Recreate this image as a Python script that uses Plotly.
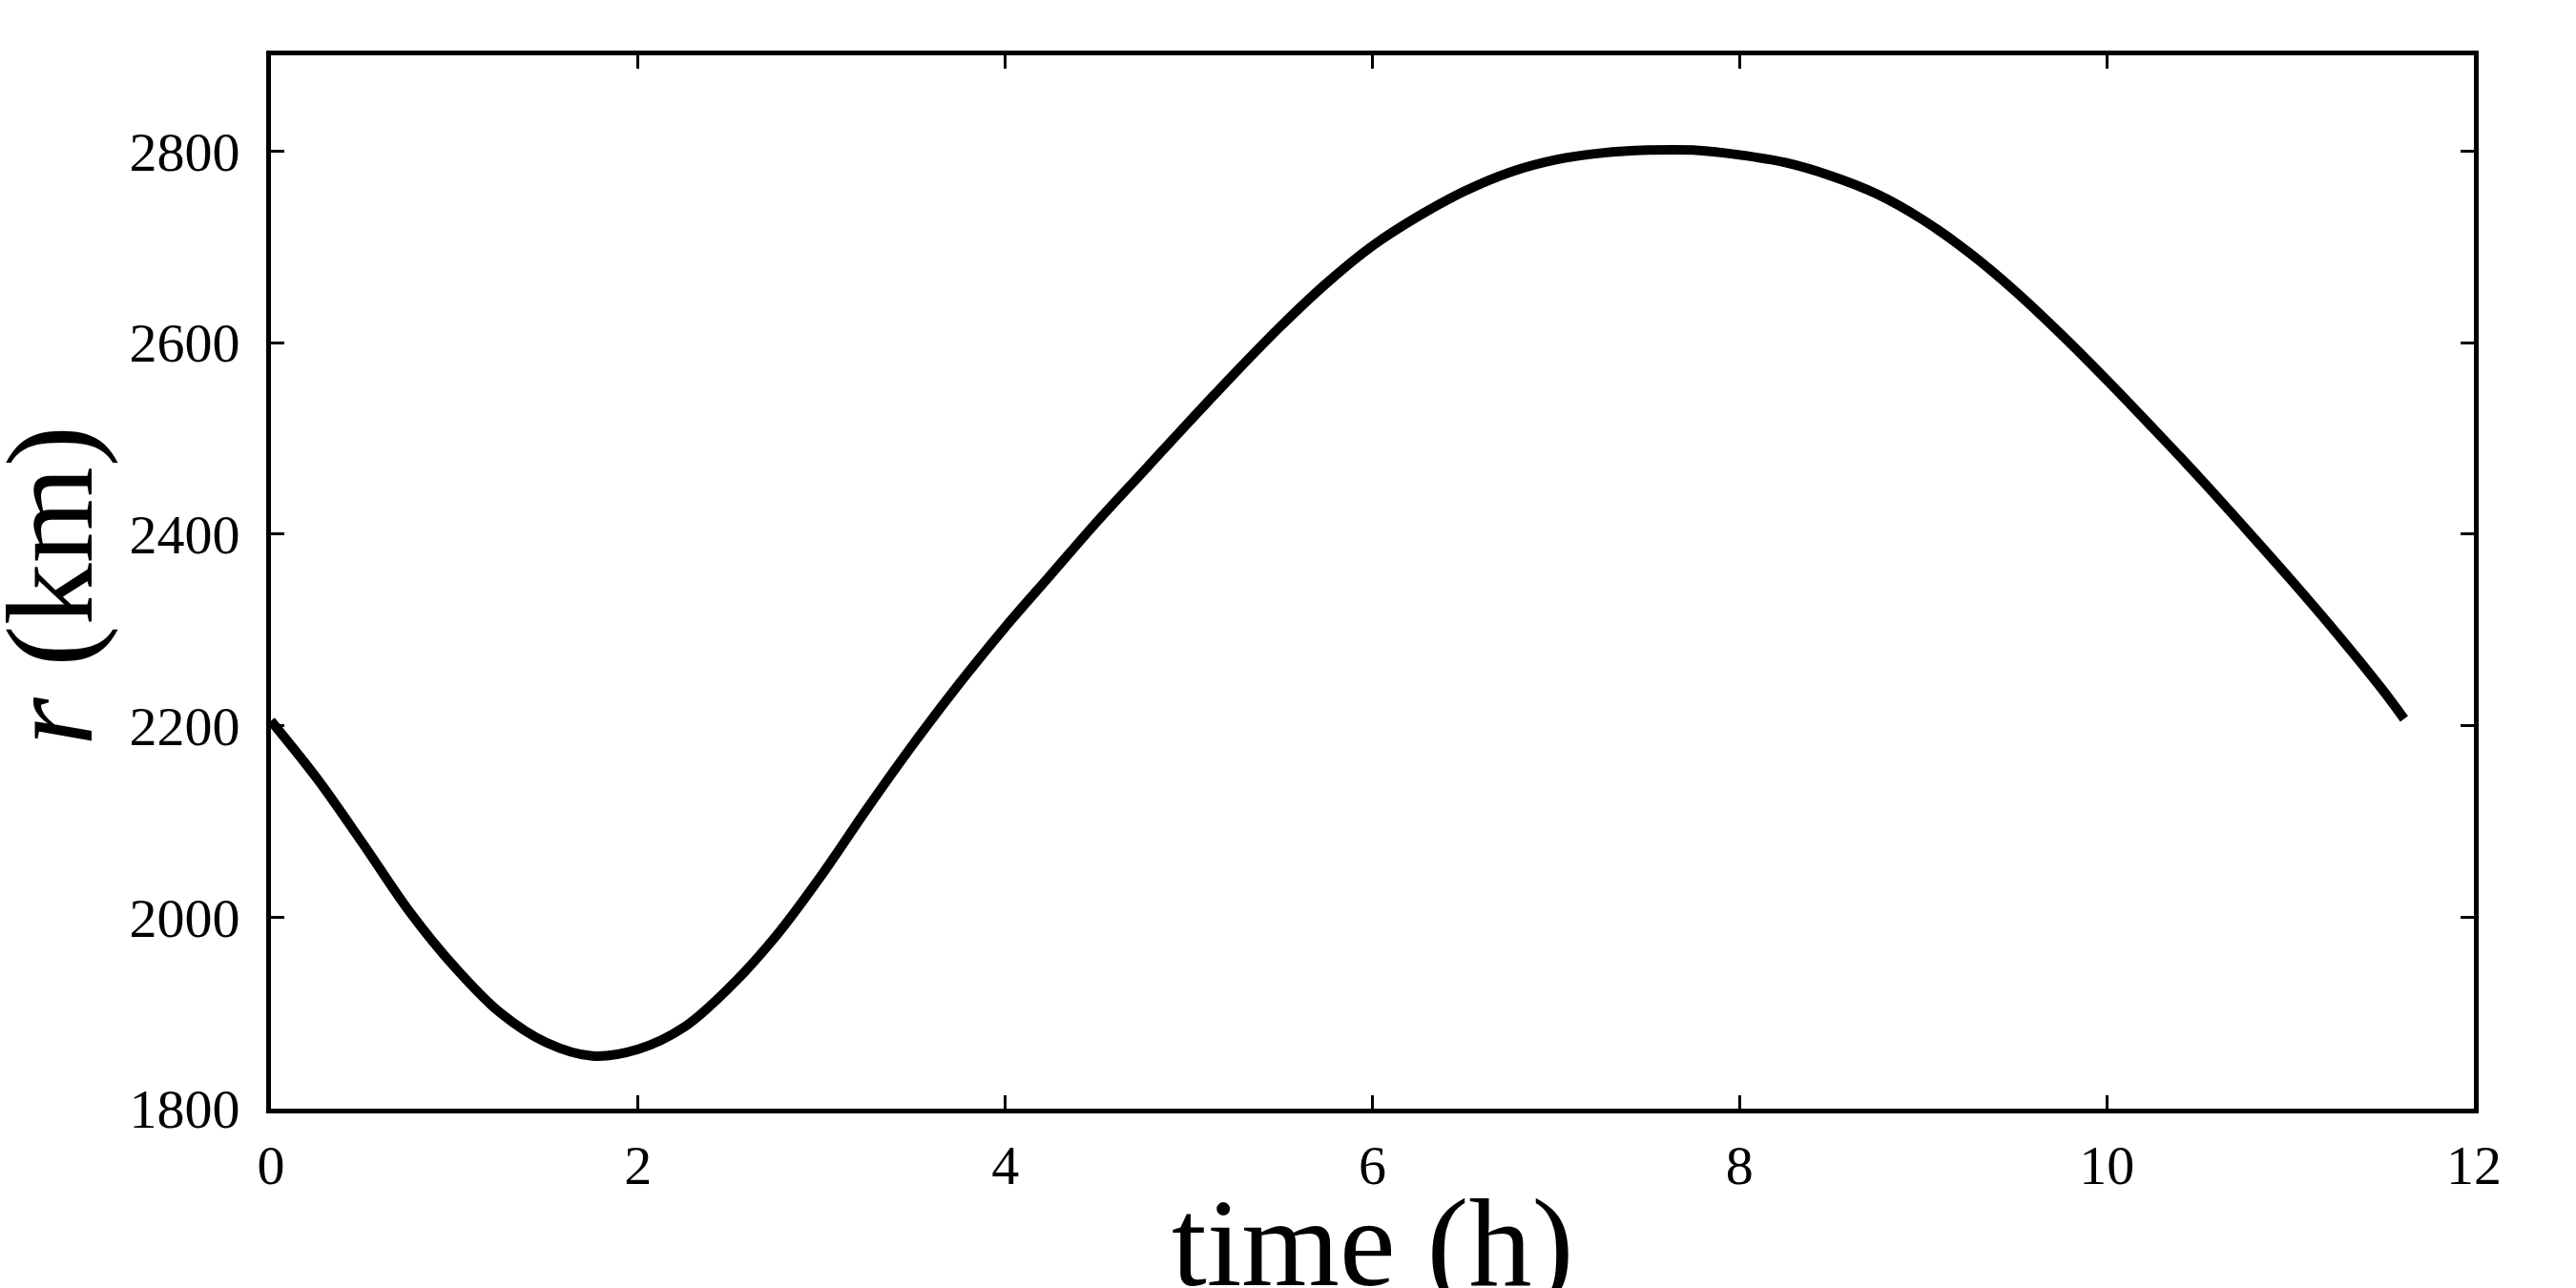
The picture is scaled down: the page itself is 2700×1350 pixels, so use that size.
import plotly.graph_objects as go

# time (h) and orbital radius r (km)
time_h = [0.0, 0.25, 0.5, 0.75, 1.0, 1.25, 1.5, 1.75, 2.0, 2.25, 2.5, 2.75,
          3.0, 3.25, 3.5, 3.75, 4.0, 4.25, 4.5, 4.75, 5.0, 5.25, 5.5, 5.75,
          6.0, 6.25, 6.5, 6.75, 7.0, 7.25, 7.5, 7.75, 8.0, 8.25, 8.5, 8.75,
          9.0, 9.25, 9.5, 9.75, 10.0, 10.25, 10.5, 10.75, 11.0, 11.25, 11.5, 11.62]
radius_km = [2205, 2145, 2077, 2007, 1948, 1900, 1869, 1855, 1862, 1885, 1927, 1980,
             2044, 2114, 2181, 2244, 2303, 2358, 2413, 2465, 2517, 2568, 2617, 2662,
             2701, 2732, 2758, 2778, 2791, 2798, 2801, 2801, 2796, 2788, 2774, 2755,
             2728, 2694, 2654, 2609, 2561, 2511, 2460, 2407, 2353, 2297, 2238, 2207]

x_ticks = [0, 2, 4, 6, 8, 10, 12]
y_ticks = [1800, 2000, 2200, 2400, 2600, 2800]

x_title = "time (h)"
y_title = "<i>r</i> (km)"

FONT = "Liberation Serif, Times New Roman, serif"

fig = go.Figure()
fig.add_trace(go.Scatter(
    x=time_h, y=radius_km, mode="lines",
    line=dict(color="black", width=10, shape="spline", smoothing=1.0),
    showlegend=False,
))

axis_common = dict(
    showline=True, linewidth=5, linecolor="black", mirror="ticks",
    ticks="inside", ticklen=14, tickwidth=3, tickcolor="black",
    showgrid=False, zeroline=False,
    tickfont=dict(family=FONT, size=58, color="black"),
    automargin=False,
)

fig.update_xaxes(
    range=[0, 12], tickvals=x_ticks, ticktext=[str(v) for v in x_ticks],
    ticklabelstandoff=4,
    **axis_common,
)
fig.update_yaxes(
    range=[1800, 2900], tickvals=y_ticks, ticktext=[str(v) for v in y_ticks],
    ticklabelstandoff=16,
    **axis_common,
)

# axis titles placed as annotations so they can sit partly outside the margins
fig.add_annotation(
    text=x_title, xref="paper", yref="paper", x=0.5, y=-0.0587,
    xanchor="center", yanchor="top", showarrow=False,
    font=dict(family=FONT, size=132, color="black"),
)
fig.add_annotation(
    text=y_title, xref="paper", yref="paper", x=-0.1003, y=0.497,
    xanchor="center", yanchor="middle", textangle=-90, showarrow=False,
    font=dict(family=FONT, size=130, color="black"),
)

fig.update_layout(
    width=2700, height=1350,
    margin=dict(l=284, r=107, t=58, b=188, pad=0),
    paper_bgcolor="white", plot_bgcolor="white",
)

fig.write_html("out.html")
